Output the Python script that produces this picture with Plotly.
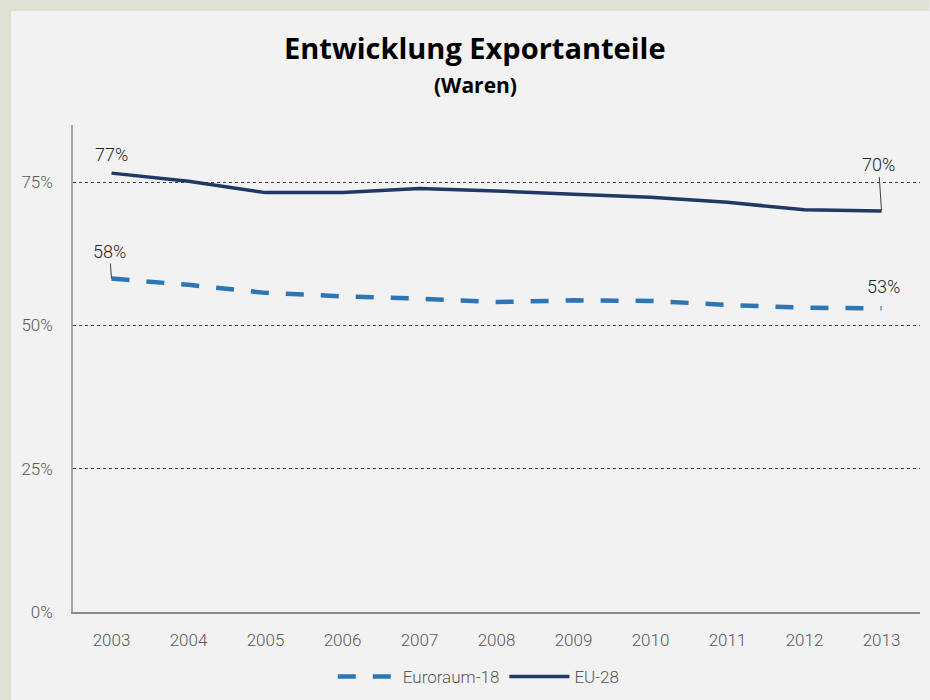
import plotly.graph_objects as go

years = ["2003", "2004", "2005", "2006", "2007", "2008", "2009", "2010", "2011", "2012", "2013"]
euroraum = [58.2, 57.1, 55.7, 55.1, 54.7, 54.1, 54.4, 54.3, 53.6, 53.1, 53.0]
eu28 = [76.6, 75.2, 73.2, 73.2, 73.9, 73.5, 72.9, 72.4, 71.5, 70.2, 70.0]
y_ticks = [0, 25, 50, 75]
y_tick_labels = ["0%", "25%", "50%", "75%"]

W, H = 930, 700
ML, MR, MT, MB = 73, 9.5, 125, 88
PW = W - ML - MR
PH = H - MT - MB

def px_x(p):
    return (p - ML) / PW

def px_y(p):
    return (H - MB - p) / PH

fig = go.Figure()
fig.add_trace(go.Scatter(
    x=years, y=euroraum, mode="lines", name="Euroraum-18",
    line=dict(color="#2e75b6", width=4.5, dash="18px,17px"),
))
fig.add_trace(go.Scatter(
    x=years, y=eu28, mode="lines", name="EU-28",
    line=dict(color="#1f3864", width=3.5),
))

first, last = 0, len(years) - 1
ann_font = dict(family="Roboto", size=18, color="#262626", weight=300)
annotations = [
    dict(x=first, y=eu28[0], text=f"{eu28[0]:.0f}%", showarrow=False, yshift=19, font=ann_font),
    dict(x=first, y=euroraum[0], text=f"{euroraum[0]:.0f}%", showarrow=True, ax=-2, ay=-27,
         arrowhead=0, arrowwidth=1, arrowcolor="#404040", standoff=0, font=ann_font),
    dict(x=last, y=eu28[-1], text=f"{eu28[-1]:.0f}%", showarrow=True, ax=-3, ay=-46,
         arrowhead=0, arrowwidth=1, arrowcolor="#404040", standoff=0, font=ann_font),
    dict(x=last, y=euroraum[-1], text=f"{euroraum[-1]:.0f}%", showarrow=False, yshift=22, xshift=2, font=ann_font),
    dict(xref="paper", yref="paper", x=px_x(475), y=px_y(48), text="<b>Entwicklung Exportanteile</b>",
         showarrow=False, font=dict(family="Open Sans", size=29, color="#000000"), xanchor="center", yanchor="middle"),
    dict(xref="paper", yref="paper", x=px_x(476), y=px_y(85), text="<b>(Waren)</b>",
         showarrow=False, font=dict(family="Open Sans", size=21, color="#000000"), xanchor="center", yanchor="middle"),
]

shapes = [
    dict(type="rect", xref="paper", yref="paper", x0=px_x(0), x1=px_x(11), y0=px_y(H), y1=px_y(0),
         fillcolor="#e0dfd4", line=dict(width=0), layer="below"),
    dict(type="rect", xref="paper", yref="paper", x0=px_x(0), x1=px_x(W), y0=px_y(11), y1=px_y(0),
         fillcolor="#e0dfd4", line=dict(width=0), layer="below"),
]

tick_font = dict(family="Roboto", size=17, color="#595959", weight=300)

fig.update_layout(
    width=W, height=H,
    margin=dict(l=ML, r=MR, t=MT, b=MB, autoexpand=False),
    paper_bgcolor="#f2f2f2", plot_bgcolor="#f2f2f2",
    showlegend=True,
    legend=dict(orientation="h", x=px_x(479), xanchor="center", y=px_y(677), yanchor="middle",
                itemwidth=60, font=tick_font, bgcolor="rgba(0,0,0,0)"),
    annotations=annotations,
    shapes=shapes,
    xaxis=dict(type="category", range=[-0.5, len(years) - 0.5], autorange=False,
               showgrid=False, showline=True, linecolor="#8c8c8c", linewidth=1.5,
               ticks="", tickfont=tick_font,
               ticklabelstandoff=12, zeroline=False),
    yaxis=dict(range=[0, 85], autorange=False, tickvals=y_ticks, ticktext=y_tick_labels, showgrid=True,
               gridcolor="#404040", griddash="dot", gridwidth=1, showline=True, linecolor="#a6a6a6",
               linewidth=1.5, ticks="", tickfont=tick_font,
               ticklabelstandoff=15, zeroline=False),
)

fig.write_html("out.html")
